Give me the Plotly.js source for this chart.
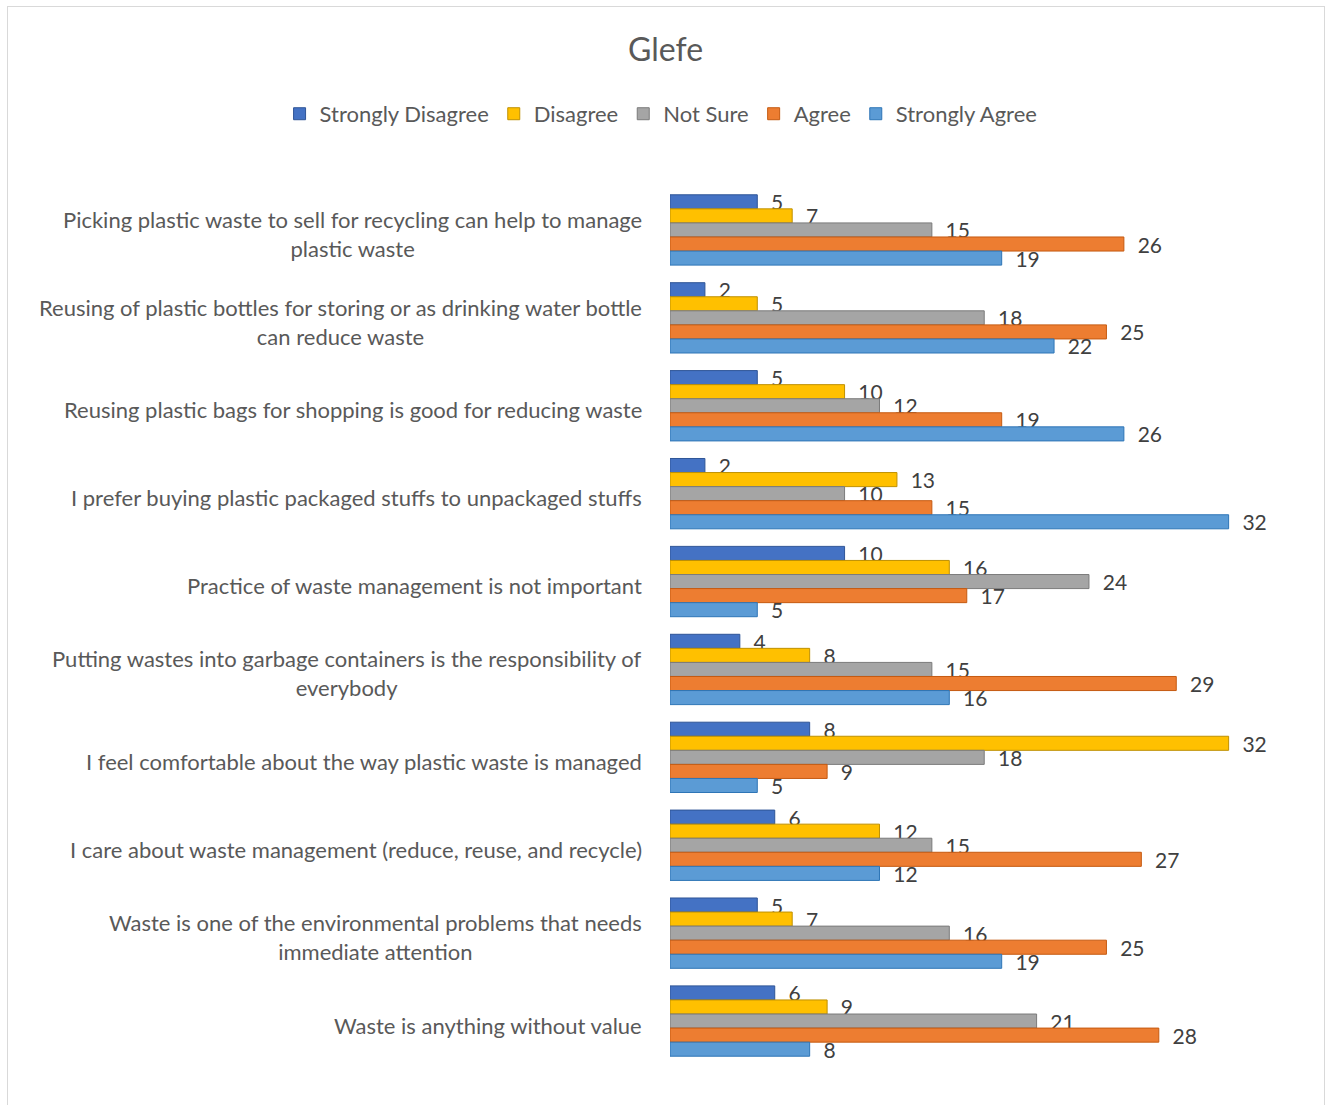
<!DOCTYPE html>
<html>
<head>
<meta charset="utf-8">
<script src="https://cdn.plot.ly/plotly-3.0.1.min.js"></script>
<style>
html,body{margin:0;padding:0;background:#fff;}
#frame{position:absolute;left:7px;top:6px;width:1318px;height:1120px;border:1px solid #d9d9d9;box-sizing:border-box;pointer-events:none;z-index:5;}
#chart{width:1331px;height:1105px;}
</style>
</head>
<body>
<div id="frame"></div>
<div id="chart"></div>
<script>
const categories = [
  "Picking plastic waste to sell for recycling can help to manage<br>plastic waste",
  "Reusing of plastic bottles for storing or as drinking water bottle<br>can reduce waste",
  "Reusing plastic bags for shopping is good for reducing waste",
  "I prefer buying plastic packaged stuffs to unpackaged stuffs",
  "Practice of waste management is not important",
  "Putting wastes into garbage containers is the responsibility of<br>everybody",
  "I feel comfortable about the way plastic waste is managed",
  "I care about waste management (reduce, reuse, and recycle)",
  "Waste is one of the environmental problems that needs<br>immediate attention",
  "Waste is anything without value"
];
const seriesNames = ["Strongly Disagree","Disagree","Not Sure","Agree","Strongly Agree"];
const stronglyDisagree = [5,2,5,2,10,4,8,6,5,6];
const disagree        = [7,5,10,13,16,8,32,12,7,9];
const notSure         = [15,18,12,10,24,15,18,15,16,21];
const agree           = [26,25,19,15,17,29,9,27,25,28];
const stronglyAgree   = [19,22,26,32,5,16,5,12,19,8];
const seriesValues = [stronglyDisagree, disagree, notSure, agree, stronglyAgree];
const colors = ["#4472C4","#FFC000","#A5A5A5","#ED7D31","#5B9BD5"];
const edgeColors = ["#2F5597","#BF9000","#7B7B7B","#C55A11","#2E75B6"];
const FONT = "Lato, 'Open Sans', sans-serif";

const ids = categories.map((c,i)=>"c"+i);
const traces = seriesValues.map((vals,k)=>({
  type:"bar", orientation:"h", name:seriesNames[k],
  y: ids, x: vals,
  marker:{color:colors[k], line:{color:edgeColors[k], width:1}},
  text: vals.map(v=>"\u00A0\u00A0"+v),
  textposition:"outside", cliponaxis:false, constraintext:"none",
  textfont:{family:FONT, size:21, color:"#404040"},
  hoverinfo:"x+name"
}));

const annotations = categories.map((c,i)=>({
  xref:"paper", yref:"y", x:0, y:ids[i], xanchor:"right", yanchor:"middle",
  xshift:-26, yshift:-4, text:c, showarrow:false, align:"center",
  font:{family:FONT, size:22, color:"#595959"}
}));

const layout = {
  width:1331, height:1105,
  margin:{l:670, r:50, t:186, b:40, pad:0},
  paper_bgcolor:"#fff", plot_bgcolor:"#fff",
  barmode:"group", bargap:0.2, bargroupgap:0,
  uniformtext:{mode:false},
  title:{text:"Glefe", xref:"container", x:0.5, xanchor:"center", yref:"container", y:1-50/1105, yanchor:"middle",
    font:{family:FONT, size:32, color:"#595959"}},
  legend:{orientation:"h", xref:"paper", yref:"paper", x:-0.639, xanchor:"left", y:1.082, yanchor:"middle",
    font:{family:FONT, size:22, color:"#595959"}, traceorder:"normal", itemwidth:30, bgcolor:"rgba(0,0,0,0)"},
  xaxis:{range:[0,35], visible:false, showgrid:false, zeroline:false, fixedrange:true},
  yaxis:{type:"category", categoryorder:"array", categoryarray:ids, autorange:"reversed", showticklabels:false, showgrid:false, zeroline:false, showline:false, ticks:""},
  annotations:annotations,
  showlegend:true
};
Plotly.newPlot("chart", traces, layout, {displayModeBar:false, staticPlot:true});
</script>
</body>
</html>
